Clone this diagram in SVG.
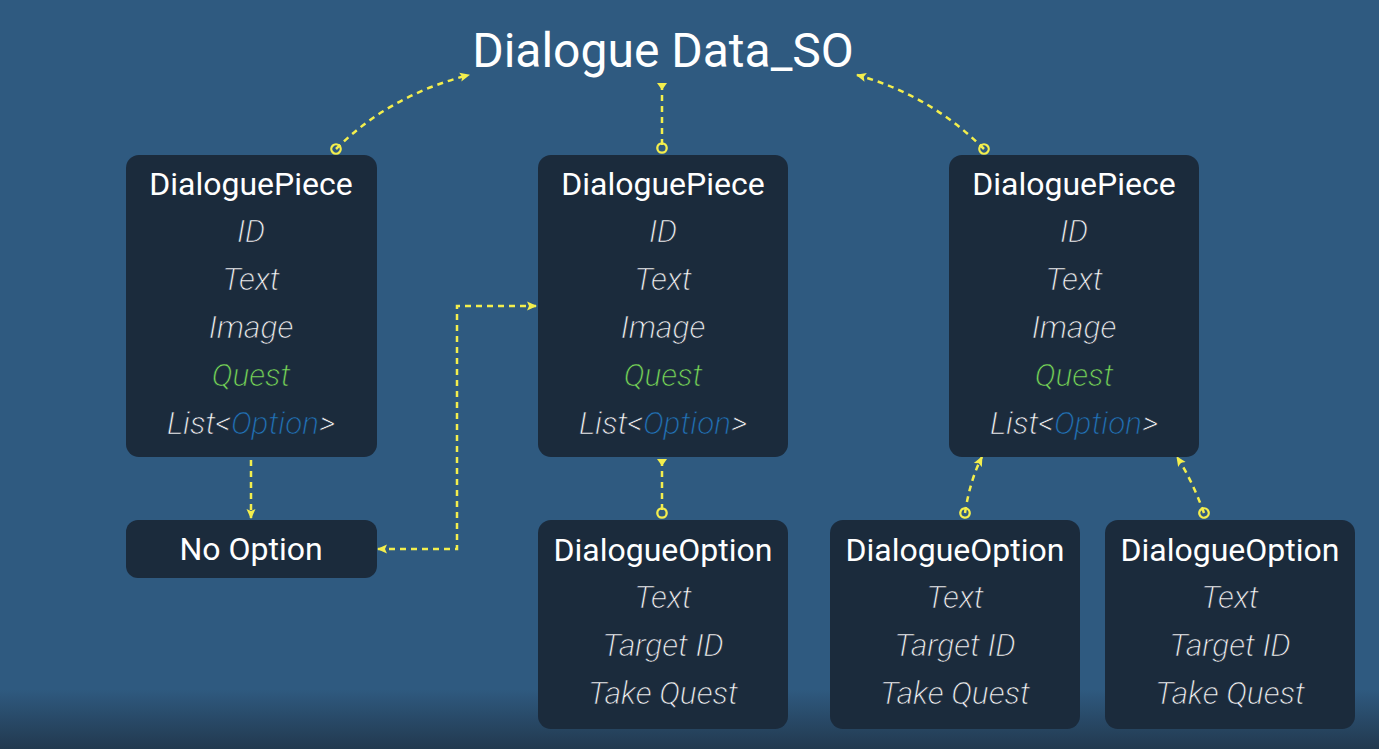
<svg xmlns="http://www.w3.org/2000/svg" width="1379" height="749" viewBox="0 0 1379 749">
<defs>
<linearGradient id="bg" x1="0" y1="0" x2="0" y2="1">
<stop offset="0" stop-color="#2f5a80"/>
<stop offset="0.92" stop-color="#2f5a80"/>
<stop offset="1" stop-color="#22394f"/>
</linearGradient>
<marker id="arr" viewBox="0 0 10 10" refX="9" refY="5" markerWidth="10" markerHeight="10" markerUnits="userSpaceOnUse" orient="auto">
<path d="M0,0.5 L10,5 L0,9.5 L2,5 Z" fill="#f3ee4d"/>
</marker>
<marker id="arrS" viewBox="0 0 10 10" refX="9" refY="5" markerWidth="10" markerHeight="10" markerUnits="userSpaceOnUse" orient="auto-start-reverse">
<path d="M0,0.5 L10,5 L0,9.5 L2,5 Z" fill="#f3ee4d"/>
</marker>
<marker id="tri" viewBox="0 0 10 10" refX="1" refY="5" markerWidth="10" markerHeight="10" markerUnits="userSpaceOnUse" orient="auto">
<path d="M0,0 L7,5 L0,10 Z" fill="#f3ee4d"/>
</marker>
<marker id="circ" viewBox="0 0 14 14" refX="7" refY="7" markerWidth="14" markerHeight="14" markerUnits="userSpaceOnUse" orient="auto">
<circle cx="7" cy="7" r="4.7" fill="none" stroke="#f3ee4d" stroke-width="2.3"/>
</marker>
</defs>
<style>
.box{fill:#1b2b3c}
.hd{font-family:Roboto,"Liberation Sans",sans-serif;font-size:32px;font-weight:400;fill:#ffffff;text-anchor:middle}
.it{font-family:"Roboto Light",Roboto,"Liberation Sans",sans-serif;font-size:31.5px;font-weight:300;font-style:italic;fill:#ffffff;stroke:#1b2b3c;stroke-width:0.5;text-anchor:middle}
.q{fill:#7ee45a}
.o{fill:#2277c0}
.c{fill:none;stroke:#f3ee4d;stroke-width:2.5;stroke-dasharray:6 5}
</style>
<rect width="1379" height="749" fill="url(#bg)"/>
<text x="663" y="67" font-family="Roboto,'Liberation Sans',sans-serif" font-size="48" fill="#ffffff" text-anchor="middle">Dialogue Data_SO</text>

<g id="connectors">
<path class="c" d="M336,149 Q390,95 469,75" marker-start="url(#circ)" marker-end="url(#arr)"/>
<path class="c" d="M662,84 L662,148" marker-start="url(#tri)" marker-end="url(#circ)"/>
<path class="c" d="M984,149 Q930,95 857,75" marker-start="url(#circ)" marker-end="url(#arr)"/>
<path class="c" d="M251,460 L251,518" marker-end="url(#arr)"/>
<path class="c" d="M378,549 L457,549 L457,306 L536,306" marker-start="url(#arrS)" marker-end="url(#arr)"/>
<path class="c" d="M662,460 L662,513" marker-start="url(#tri)" marker-end="url(#circ)"/>
<path class="c" d="M965,513 Q970,480 982,457" marker-start="url(#circ)" marker-end="url(#arr)"/>
<path class="c" d="M1204,513 Q1192,480 1177,457" marker-start="url(#circ)" marker-end="url(#arr)"/>
</g>

<g id="piece1">
<rect class="box" x="126" y="155" width="251" height="302" rx="13"/>
<text class="hd" x="251" y="195">DialoguePiece</text>
<text class="it" x="251" y="242">ID</text>
<text class="it" x="251" y="290">Text</text>
<text class="it" x="251" y="338">Image</text>
<text class="it q" x="251" y="386">Quest</text>
<text class="it" x="251" y="434">List&lt;<tspan class="o">Option</tspan>&gt;</text>
</g>
<g id="piece2">
<rect class="box" x="538" y="155" width="250" height="302" rx="13"/>
<text class="hd" x="663" y="195">DialoguePiece</text>
<text class="it" x="663" y="242">ID</text>
<text class="it" x="663" y="290">Text</text>
<text class="it" x="663" y="338">Image</text>
<text class="it q" x="663" y="386">Quest</text>
<text class="it" x="663" y="434">List&lt;<tspan class="o">Option</tspan>&gt;</text>
</g>
<g id="piece3">
<rect class="box" x="949" y="155" width="250" height="302" rx="13"/>
<text class="hd" x="1074" y="195">DialoguePiece</text>
<text class="it" x="1074" y="242">ID</text>
<text class="it" x="1074" y="290">Text</text>
<text class="it" x="1074" y="338">Image</text>
<text class="it q" x="1074" y="386">Quest</text>
<text class="it" x="1074" y="434">List&lt;<tspan class="o">Option</tspan>&gt;</text>
</g>
<g id="nooption">
<rect class="box" x="126" y="520" width="251" height="58" rx="12"/>
<text class="hd" x="251" y="560">No Option</text>
</g>
<g id="option1">
<rect class="box" x="538" y="520" width="250" height="209" rx="13"/>
<text class="hd" x="663" y="561">DialogueOption</text>
<text class="it" x="663" y="608">Text</text>
<text class="it" x="663" y="656">Target ID</text>
<text class="it" x="663" y="704">Take Quest</text>
</g>
<g id="option2">
<rect class="box" x="830" y="520" width="250" height="209" rx="13"/>
<text class="hd" x="955" y="561">DialogueOption</text>
<text class="it" x="955" y="608">Text</text>
<text class="it" x="955" y="656">Target ID</text>
<text class="it" x="955" y="704">Take Quest</text>
</g>
<g id="option3">
<rect class="box" x="1105" y="520" width="250" height="209" rx="13"/>
<text class="hd" x="1230" y="561">DialogueOption</text>
<text class="it" x="1230" y="608">Text</text>
<text class="it" x="1230" y="656">Target ID</text>
<text class="it" x="1230" y="704">Take Quest</text>
</g>
</svg>
